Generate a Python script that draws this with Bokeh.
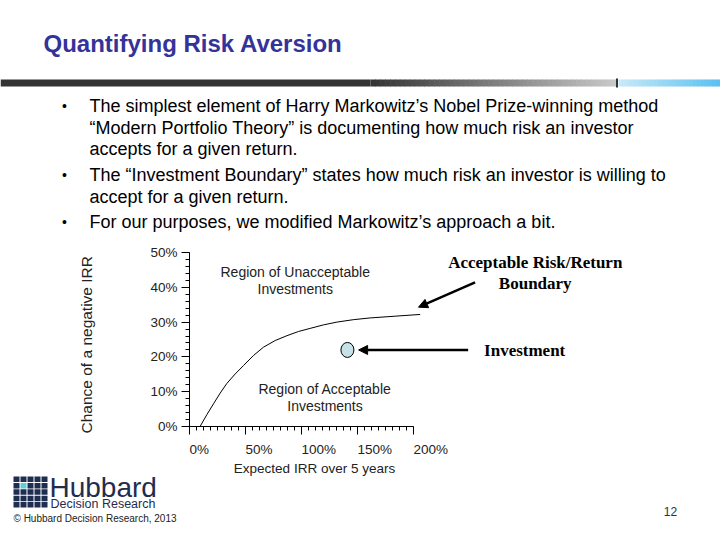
from bokeh.plotting import figure
from bokeh.models import (Range1d, FixedTicker, PrintfTickFormatter, Arrow, NormalHead, Title)
from bokeh.layouts import column
from bokeh.core.properties import value
from bokeh.embed import file_html
from bokeh.resources import INLINE

# ---------------- data ----------------
boundary_return = [9.6, 15.5, 21.4, 27.4, 33.4, 40.8, 48.2, 57.1, 66.1, 76.5, 87.0,
                   97.3, 107.8, 119.6, 131.6, 146.4, 161.3, 183.7, 206.0]
boundary_risk = [0.1, 3.4, 6.5, 9.6, 12.4, 15.1, 17.5, 20.4, 22.8, 24.7, 26.1,
                 27.3, 28.2, 29.2, 30.0, 30.7, 31.2, 31.7, 32.2]
investment_return = [141.0]
investment_risk = [22.0]
x_ticks = [0, 50, 100, 150, 200]
y_ticks = [0, 10, 20, 30, 40, 50]
x_title_text = "Expected IRR over 5 years"
y_title_text = "Chance of a negative IRR"

title_text = "Quantifying Risk Aversion"
bullet_lines = [
    "The simplest element of Harry Markowitz\u2019s Nobel Prize-winning method",
    "\u201cModern Portfolio Theory\u201d is documenting how much risk an investor",
    "accepts for a given return.",
    "The \u201cInvestment Boundary\u201d states how much risk an investor is willing to",
    "accept for a given return.",
    "For our purposes, we modified Markowitz\u2019s approach a bit.",
]
bullet_first_line = [0, 3, 5]

SANS = "Liberation Sans"
SERIF = "Liberation Serif"
W = 720
PX_PER_X = 1.12   # screen px per 1% on the x axis
PX_PER_Y = 3.48   # screen px per 1% on the y axis


def hexcol(rgb):
    return "#%02x%02x%02x" % tuple(int(round(c)) for c in rgb)


def lerp(a, b, t):
    return tuple(a[i] + (b[i] - a[i]) * t for i in range(3))


# ---------------- header ----------------
header = figure(width=W, height=232, x_range=Range1d(0, 720), y_range=Range1d(232, 0),
                output_backend="svg", toolbar_location=None, min_border=0,
                x_axis_location=None, y_axis_location=None, frame_align=False)
header.grid.visible = False
header.outline_line_color = None

header.text(x=[43], y=[43], text=[title_text], text_font=value(SANS), text_font_size="24px",
            text_font_style="bold", text_color="#333399", text_baseline="middle", text_align="left")

# gradient bar
G0, G1 = 370, 615
lefts, rights, cols = [0], [G0], ["#333333"]
n = 50
for i in range(n):
    l = G0 + (G1 - G0) * i / n
    r = G0 + (G1 - G0) * (i + 1) / n
    lefts.append(l); rights.append(r + 0.6)
    cols.append(hexcol(lerp((0x33, 0x33, 0x33), (0xc8, 0xc8, 0xc8), (i + 0.5) / n)))
nb = 26
for i in range(nb):
    l = 618 + (720 - 618) * i / nb
    r = 618 + (720 - 618) * (i + 1) / nb
    lefts.append(l); rights.append(r + 0.6)
    cols.append(hexcol(lerp((0xc8, 0xe9, 0xf8), (0x5a, 0xc0, 0xf0), (i + 0.5) / nb)))
header.quad(left=lefts, right=rights, top=79, bottom=86, fill_color=cols, line_color=None)
header.quad(left=[615.5], right=[617.5], top=[78], bottom=[87], fill_color="#2a3340", line_color=None)

line_y = [105, 127, 148, 174, 196, 221]
header.text(x=[89] * len(bullet_lines), y=line_y, text=bullet_lines, text_font=value(SANS),
            text_font_size="18px", text_color="#000000", text_baseline="middle", text_align="left")
header.text(x=[64] * 3, y=[line_y[i] for i in bullet_first_line], text=["\u2022"] * 3,
            text_font=value(SANS), text_font_size="14px", text_color="#000000",
            text_baseline="middle", text_align="center")

# ---------------- chart ----------------
LEFT = 189
FRAME_W = W - LEFT
FRAME_H = 185
CHART_BOTTOM = 44
chart = figure(frame_width=FRAME_W, frame_height=FRAME_H,
               x_range=Range1d(0, FRAME_W / PX_PER_X), y_range=Range1d(0, FRAME_H / PX_PER_Y),
               output_backend="svg", toolbar_location=None, frame_align=False,
               min_border_left=LEFT, min_border_right=0, min_border_top=9,
               min_border_bottom=CHART_BOTTOM)
chart.grid.visible = False
chart.outline_line_color = None

xa = chart.xaxis[0]
ya = chart.yaxis[0]
xa.ticker = FixedTicker(ticks=x_ticks, minor_ticks=[t * 6.25 for t in range(33)])
ya.ticker = FixedTicker(ticks=y_ticks, minor_ticks=[t * 2 for t in range(26)])
xa.bounds = (0, 200)
ya.bounds = (0, 50)
for ax in (xa, ya):
    ax.formatter = PrintfTickFormatter(format="%d%%")
    ax.axis_line_color = "black"
    ax.major_tick_line_color = "black"
    ax.minor_tick_line_color = "black"
    ax.major_tick_in = 0
    ax.major_tick_out = 8
    ax.minor_tick_in = 0
    ax.minor_tick_out = 4
    ax.major_label_text_font = SANS
    ax.major_label_text_font_size = "13.5px"
    ax.major_label_text_color = "#222222"
ya.major_label_standoff = 4
# x tick labels start at their ticks in the reference (left aligned)
xa.major_label_orientation = -0.0001
xa.major_label_standoff = 15

# y axis title: starts a little below the x axis line, as in the reference
y_title = Title(text=y_title_text, align="left", offset=-7,
                text_font=SANS, text_font_size="15.5px", text_font_style="normal",
                text_color="#222222", standoff=105)
chart.add_layout(y_title, "left")

chart.line(boundary_return, boundary_risk, line_color="black", line_width=1)
chart.ellipse(x=investment_return, y=investment_risk, width=13, height=15,
              width_units="screen", height_units="screen",
              fill_color="#c6e2e6", line_color="black", line_width=1)

chart.add_layout(Arrow(end=NormalHead(size=9, fill_color="black", line_color="black"),
                       x_start=248.8, y_start=22.0, x_end=151.0, y_end=22.0,
                       line_width=2.5, line_color="black"))
chart.add_layout(Arrow(end=NormalHead(size=9, fill_color="black", line_color="black"),
                       x_start=255.0, y_start=41.4, x_end=204.5, y_end=34.3,
                       line_width=2.5, line_color="black"))

chart.text(x=[94.4, 94.4, 121.0, 121.0], y=[44.5, 39.6, 10.9, 6.0],
           text=["Region of Unacceptable", "Investments", "Region of Acceptable", "Investments"],
           text_font=value(SANS), text_font_size="14px", text_color="#222222",
           text_baseline="middle", text_align="center")
chart.text(x=[308.7, 308.7], y=[47.1, 41.1], text=["Acceptable Risk/Return", "Boundary"],
           text_font=value(SERIF), text_font_size="17px", text_font_style="bold",
           text_color="#000000", text_baseline="middle", text_align="center")
chart.text(x=[263.0], y=[21.8], text=["Investment"],
           text_font=value(SERIF), text_font_size="17px", text_font_style="bold",
           text_color="#000000", text_baseline="middle", text_align="left")

# ---------------- footer (overlaps the bottom of the chart, transparent) ----------------
chart_end = 232 + 9 + FRAME_H + CHART_BOTTOM
FOOT_TOP = 456
footer = figure(width=W, height=540 - FOOT_TOP, x_range=Range1d(0, 720),
                y_range=Range1d(540, FOOT_TOP),
                output_backend="svg", toolbar_location=None, min_border=0,
                x_axis_location=None, y_axis_location=None, frame_align=False,
                background_fill_color=None, border_fill_color=None,
                styles={"margin-top": "%dpx" % (FOOT_TOP - chart_end)})
footer.grid.visible = False
footer.outline_line_color = None

# x axis title, centred under the bounded x axis as in the reference
footer.text(x=[314], y=[468], text=[x_title_text], text_font=value(SANS), text_font_size="13.5px",
            text_color="#222222", text_baseline="middle", text_align="center")

sq_l, sq_r, sq_t, sq_b, sq_c = [], [], [], [], []
for r in range(5):
    for c in range(5):
        l = 13 + c * 7
        t = 476 + r * 6.4
        sq_l.append(l); sq_r.append(l + 6)
        sq_t.append(t); sq_b.append(t + 5.5)
        sq_c.append("#5fd0d8" if (r == 1 and c == 1) else "#1f2d50")
footer.quad(left=sq_l, right=sq_r, top=sq_t, bottom=sq_b, fill_color=sq_c, line_color=None)
footer.text(x=[49], y=[487], text=["Hubbard"], text_font=value(SANS), text_font_size="28px",
            text_color="#1f2d50", text_baseline="middle", text_align="left")
footer.text(x=[50], y=[503], text=["Decision Research"], text_font=value(SANS),
            text_font_size="12.5px", text_color="#1f2d50", text_baseline="middle",
            text_align="left")
footer.text(x=[13], y=[518], text=["\u00a9 Hubbard Decision Research, 2013"], text_font=value(SANS),
            text_font_size="10px", text_color="#222222", text_baseline="middle", text_align="left")
footer.text(x=[670], y=[511], text=["12"], text_font=value(SANS), text_font_size="12px",
            text_color="#333333", text_baseline="middle", text_align="center")

layout = column(header, chart, footer, spacing=0)
open("out.html", "w").write(file_html(layout, INLINE))
